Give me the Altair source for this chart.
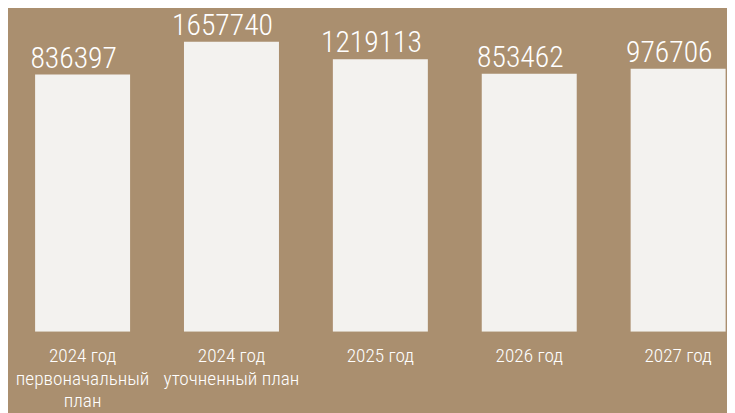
import altair as alt
import pandas as pd

categories = [
    "2024 год\nпервоначальный\nплан",
    "2024 год\nуточненный план",
    "2025 год",
    "2026 год",
    "2027 год",
]
values = [836397, 1657740, 1219113, 853462, 976706]

df = pd.DataFrame({"cat": categories, "value": values})

BG = "#AA8F6F"
BAR = "#F3F2EF"
FONT = "Roboto Condensed, Arial Narrow, Liberation Sans Narrow, Liberation Sans"

y_min = -5602400
y_max = 2444200

x_enc = alt.X(
    "cat:N",
    sort=categories,
    scale=alt.Scale(range=[0, 753], paddingInner=0.362, paddingOuter=0.182),
    axis=alt.Axis(
        title=None,
        labelAngle=0,
        domain=False,
        ticks=False,
        grid=False,
        labelExpr="split(datum.label, '\\n')",
        labelFontSize=19.5,
        labelFont=FONT,
        labelFontWeight=300,
        labelColor="#FFFFFF",
        labelLineHeight=23,
        labelBaseline="alphabetic",
        labelPadding=30,
        labelLimit=300,
    ),
)
y_scale = alt.Scale(domain=[y_min, y_max], zero=False, nice=False)

bars = alt.Chart(df).mark_bar(color=BAR, clip=True).encode(
    x=x_enc,
    y=alt.Y("value:Q", scale=y_scale, axis=None),
    y2=alt.datum(y_min),
)

labels = alt.Chart(df).mark_text(
    color="#FFFFFF",
    font=FONT,
    fontSize=30,
    fontWeight=300,
    baseline="alphabetic",
    align="center",
    dy=-7,
    dx=-9,
).encode(
    x=alt.X("cat:N", sort=categories),
    y=alt.Y("value:Q", scale=y_scale, axis=None),
    text=alt.Text("value:Q", format="d"),
)

chart = (
    alt.layer(bars, labels)
    .properties(
        width=727,
        height=325,
        background=BG,
        padding={"left": 0, "top": 0, "right": 0, "bottom": 80},
        autosize=alt.AutoSizeParams(type="none"),
    )
    .configure_view(stroke=None)
)

chart.save("out.html", embed_options={"renderer": "svg", "actions": False})
